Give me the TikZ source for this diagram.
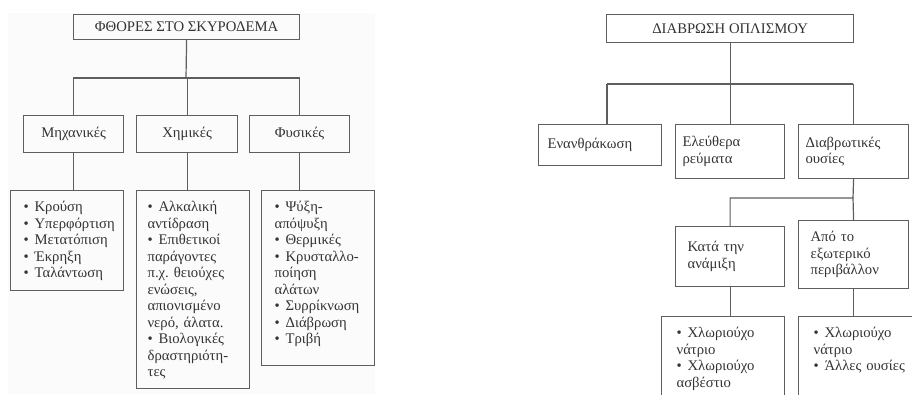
\documentclass[tikz,border=0pt]{standalone}
\usepackage{fontspec}
\setmainfont{Liberation Serif}
\usetikzlibrary{calc}

\definecolor{linegray}{HTML}{5E5E5E}
\definecolor{textgray}{HTML}{333333}
\definecolor{panelbg}{HTML}{FBFBFB}

\frenchspacing
\newcommand{\itm}[1]{\hangindent=11pt\hangafter=1\noindent\makebox[11pt][l]{\textbullet}#1\par}

\tikzset{
  box/.style={draw=linegray, line width=1.2pt, rectangle, anchor=north west, text=textgray,
    font=\fontsize{14.7}{16.5}\selectfont},
  headbox/.style={box, align=center, inner sep=0pt},
  listbox/.style={box, align=left, text height=12pt, inner ysep=9pt},
  link/.style={draw=linegray, line width=1.2pt}
}

\begin{document}
\begin{tikzpicture}[x=1pt, y=-1pt]
            \useasboundingbox (0,0) rectangle (912,394);
            \clip (0,0) rectangle (912,394);
            \fill[panelbg] (8,13) rectangle (375,394);

            \node[headbox, minimum width=226, minimum height=25] (t1) at (73,14) {ΦΘΟΡΕΣ ΣΤΟ ΣΚΥΡΟΔΕΜΑ};
            \node[headbox, minimum width=100, minimum height=37] (m1) at (23,115) {Μηχανικές};
            \node[headbox, minimum width=101, minimum height=37] (c1) at (136,115) {Χημικές};
            \node[headbox, minimum width=100, minimum height=37] (p1) at (249,115) {Φυσικές};
            \node[listbox, inner xsep=13pt, text width=87pt, text depth=70pt] (l1) at (10,190)
              {\itm{Κρούση}\itm{Υπερφόρτιση}\itm{Μετατόπιση}\itm{Έκρηξη}\itm{Ταλάντωση}};
            \node[listbox, inner xsep=11pt, text width=91pt, text depth=168pt] (l2) at (136,190)
              {\itm{Αλκαλική\\αντίδραση}\itm{Επιθετικοί\\παράγοντες\\π.χ. θειούχες\\ενώσεις,\\απιονισμένο\\νερό, άλατα.}\itm{Βιολογικές\\δραστηριότη-\\τες}};
            \node[listbox, inner xsep=13pt, text width=87pt, text depth=145pt] (l3) at (261,190)
              {\itm{Ψύξη-\\απόψυξη}\itm{Θερμικές}\itm{Κρυσταλλο-\\ποίηση\\αλάτων}\itm{Συρρίκνωση}\itm{Διάβρωση}\itm{Τριβή}};

            \coordinate (j1) at (186,78);
            \draw[link] (t1.south) -- (j1);
            \draw[link] (m1.north) |- (j1) -| (p1.north);
            \draw[link] (c1.north) -- (c1.north |- j1);
            \draw[link] (m1.south) -- (m1.south |- l1.north);
            \draw[link] (c1.south) -- (c1.south |- l2.north);
            \draw[link] (p1.south) -- (p1.south |- l3.north);

            \node[headbox, minimum width=247, minimum height=28] (t2) at (606,14) {ΔΙΑΒΡΩΣΗ ΟΠΛΙΣΜΟΥ};
            \node[box, align=left, inner xsep=9pt, text width=105pt, minimum height=41] (r1) at (538,124) {Ενανθράκωση};
            \node[box, align=left, inner xsep=7pt, text width=95pt, minimum height=54] (r2) at (675,124) {Ελεύθερα\\ρεύματα};
            \node[box, align=left, inner xsep=7pt, text width=96pt, minimum height=54] (r3) at (798,124) {Διαβρωτικές\\ουσίες};
            \node[box, align=left, inner xsep=12pt, text width=85pt, minimum height=60] (s1) at (675,226) {Κατά την\\ανάμιξη};
            \node[box, align=left, inner xsep=12pt, text width=86pt, minimum height=68] (s2) at (798,220) {Από το\\εξωτερικό\\περιβάλλον};
            \node[listbox, inner xsep=15pt, text width=93pt, text depth=80pt] (q1) at (661,316)
              {\itm{Χλωριούχο\\νάτριο}\itm{Χλωριούχο\\ασβέστιο}};
            \node[listbox, inner xsep=15pt, text width=93pt, text depth=80pt] (q2) at (798,316)
              {\itm{Χλωριούχο\\νάτριο}\itm{Άλλες ουσίες}};

            \coordinate (h2w) at (607,84);
            \coordinate (h2e) at (853,84);
            \draw[link] (h2w) -- (h2e);
            \draw[link] (t2.south) -- (t2.south |- h2w);
            \draw[link] (h2w) -- (h2w |- r1.north);
            \draw[link] (r2.north) -- (r2.north |- h2w);
            \draw[link] (r3.north) -- (r3.north |- h2e);
            \coordinate (j3) at (853,198);
            \draw[link] (r3.south) -- (j3);
            \draw[link] (s1.north) |- (j3) -- (s2.north);
            \draw[link] (s1.south) -- (s1.south |- q1.north);
            \draw[link] (s2.south) -- (s2.south |- q2.north);
\end{tikzpicture}
\end{document}
